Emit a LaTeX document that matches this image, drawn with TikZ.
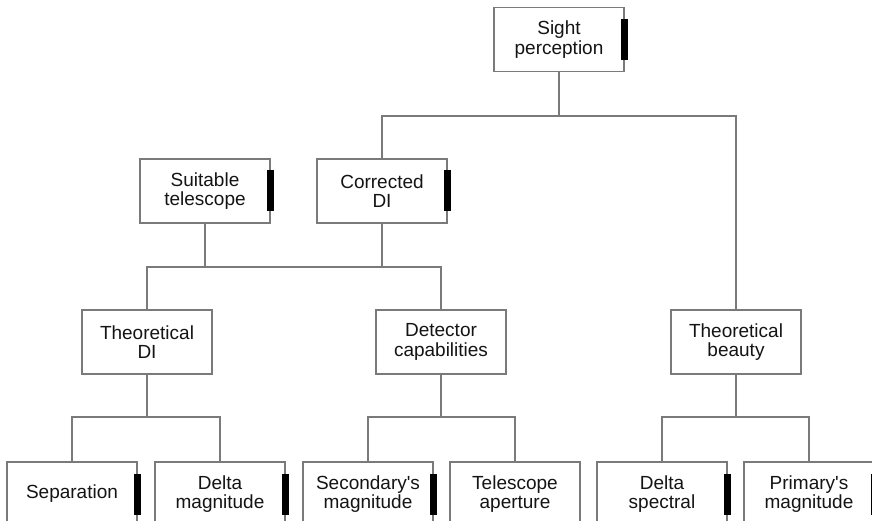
\documentclass[tikz,border=0pt]{standalone}
\usepackage{fontspec}
\setmainfont{Liberation Sans}[Ligatures=TeXOff]
\definecolor{linegrey}{HTML}{7A7A7A}
\definecolor{textdark}{HTML}{141414}
\begin{document}
\begin{tikzpicture}[x=1pt,y=-1pt,
  box/.style={draw=linegrey, line width=1.3pt, rectangle, minimum width=130pt,
    minimum height=64pt, inner sep=0pt, align=center, text=textdark,
    font=\fontsize{19}{19.5}\selectfont},
  barmark/.style={fill=black, draw=none, minimum width=7pt, minimum height=41pt, inner sep=0pt},
  conn/.style={draw=linegrey, line width=1.3pt}]
\useasboundingbox (0,0) rectangle (872,521);
\clip (0,0) rectangle (872,521);
\fill[white] (0,0) rectangle (872,521);

% level 0
\node[box] (sight) at (559,39.5) {Sight\\perception};
% level 1
\node[box] (suit) at (205,191) {Suitable\\telescope};
\node[box] (corr) at (382,191) {Corrected\\DI};
% level 2
\node[box] (tdi) at (147,342) {Theoretical\\DI};
\node[box] (det) at (441,342) {Detector\\capabilities};
\node[box] (beauty) at (736,342) {Theoretical\\beauty};
% level 3
\node[box] (sep) at (72,494) {Separation};
\node[box] (dmag) at (220,494) {Delta\\magnitude};
\node[box] (smag) at (368,494) {Secondary's\\magnitude};
\node[box] (tap) at (515,494) {Telescope\\aperture};
\node[box] (dspec) at (662,494) {Delta\\spectral};
\node[box] (pmag) at (809,494) {Primary's\\magnitude};

% black bars
\node[barmark] (sightbar) at (sight.east) {};
\node[barmark] (suitbar) at (suit.east) {};
\node[barmark] (corrbar) at (corr.east) {};
\node[barmark] (sepbar) at (sep.east) {};
\node[barmark] (dmagbar) at (dmag.east) {};
\node[barmark] (smagbar) at (smag.east) {};
\node[barmark] (dspecbar) at (dspec.east) {};
\node[barmark] (pmagbar) at (pmag.east) {};

% junction levels
\coordinate (j0) at (0,116);
\coordinate (j1) at (0,267);
\coordinate (j2) at (0,417);

% connectors
\draw[conn] (sight.south) -- (sight.south |- j0);
\draw[conn] (corr.north) |- (sight.south |- j0) -| (beauty.north);

\draw[conn] (suit.south) -- (suit.south |- j1);
\draw[conn] (corr.south) -- (corr.south |- j1);
\draw[conn] (tdi.north) |- (corr.south |- j1) -| (det.north);

\draw[conn] (tdi.south) -- (tdi.south |- j2);
\draw[conn] (sep.north) |- (tdi.south |- j2) -| (dmag.north);

\draw[conn] (det.south) -- (det.south |- j2);
\draw[conn] (smag.north) |- (det.south |- j2) -| (tap.north);

\draw[conn] (beauty.south) -- (beauty.south |- j2);
\draw[conn] (dspec.north) |- (beauty.south |- j2) -| (pmag.north);
\end{tikzpicture}
\end{document}
